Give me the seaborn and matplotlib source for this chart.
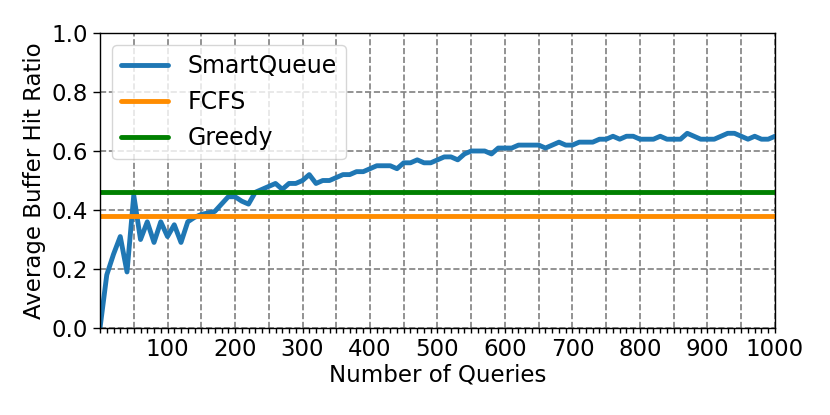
import numpy as np
import pandas as pd
import matplotlib
matplotlib.use("Agg")
import matplotlib.pyplot as plt
import seaborn as sns
from matplotlib.ticker import MultipleLocator, FuncFormatter

# number of queries, sampled every 10
queries = list(range(0, 1001, 10))

# SmartQueue average buffer hit ratio
smartqueue = [
    0.00, 0.18, 0.25, 0.31, 0.19, 0.45, 0.30, 0.36, 0.29, 0.36,
    0.31, 0.35, 0.29, 0.36, 0.375, 0.385, 0.39, 0.395, 0.42, 0.445,
    0.445, 0.43, 0.42, 0.46, 0.47, 0.48, 0.49, 0.47, 0.49, 0.49,
    0.50, 0.52, 0.49, 0.50, 0.50, 0.51, 0.52, 0.52, 0.53, 0.53,
    0.54, 0.55, 0.55, 0.55, 0.54, 0.56, 0.56, 0.57, 0.56, 0.56,
    0.57, 0.58, 0.58, 0.57, 0.59, 0.60, 0.60, 0.60, 0.59, 0.61,
    0.61, 0.61, 0.62, 0.62, 0.62, 0.62, 0.61, 0.62, 0.63, 0.62,
    0.62, 0.63, 0.63, 0.63, 0.64, 0.64, 0.65, 0.64, 0.65, 0.65,
    0.64, 0.64, 0.64, 0.65, 0.64, 0.64, 0.64, 0.66, 0.65, 0.64,
    0.64, 0.64, 0.65, 0.66, 0.66, 0.65, 0.64, 0.65, 0.64, 0.64,
    0.65,
]

# baselines (constant)
fcfs = 0.38
greedy = 0.46

sns.set_style("ticks")
plt.rcParams['font.family'] = ['DejaVu Sans']
plt.rcParams['font.size'] = 16
plt.rcParams['text.color'] = 'black'
plt.rcParams['axes.labelcolor'] = 'black'
plt.rcParams['xtick.color'] = 'black'
plt.rcParams['ytick.color'] = 'black'

df = pd.DataFrame({'Queries': queries, 'Hit': smartqueue})

fig = plt.figure(figsize=(8.3, 4.15), dpi=100)
ax = fig.add_axes([0.1205, 0.2096, 0.8132, 0.7109])

sns.lineplot(data=df, x='Queries', y='Hit', ax=ax, color='#1f77b4',
             linewidth=3.5, label='SmartQueue')
ax.axhline(fcfs, color='darkorange', linewidth=3.5, label='FCFS')
ax.axhline(greedy, color='green', linewidth=3.5, label='Greedy')

ax.set_xlim(0, 1000)
ax.set_ylim(0, 1.0)
ax.xaxis.set_major_locator(MultipleLocator(50))
ax.xaxis.set_minor_locator(MultipleLocator(10))
ax.xaxis.set_major_formatter(FuncFormatter(
    lambda v, p: f"{int(v)}" if v > 0 and int(v) % 100 == 0 else ""))
ax.yaxis.set_major_locator(MultipleLocator(0.2))
ax.tick_params(axis='both', labelsize=16.5, color='black', labelcolor='black')
ax.tick_params(axis='x', which='both', length=3.5, width=1)
ax.tick_params(axis='y', length=5, width=1)

ax.grid(True, linestyle='--', color='gray', linewidth=1.2)
for s in ax.spines.values():
    s.set_color('black')
    s.set_linewidth(1.0)

ax.set_xlabel('Number of Queries', fontsize=16.5, labelpad=2)
ax.set_ylabel('Average Buffer Hit Ratio', fontsize=16.5)

ax.legend(loc='upper left', fontsize=17, frameon=True, framealpha=0.8,
          handlelength=2.0, borderaxespad=0.5)

fig.savefig('out.png', dpi=100)
